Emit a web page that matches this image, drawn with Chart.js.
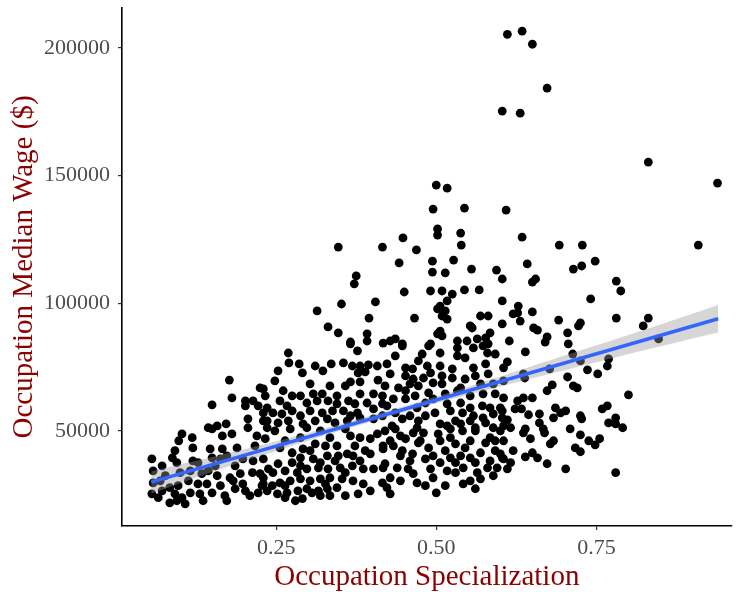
<!DOCTYPE html>
<html>
<head>
<meta charset="utf-8">
<script src="https://cdn.jsdelivr.net/npm/chart.js@4/dist/chart.umd.min.js"></script>
<style>
  html, body { margin: 0; padding: 0; background: #fff; }
  canvas { display: block; }
</style>
</head>
<body>
<canvas id="wage-chart" width="736" height="592"></canvas>
<script>
// occupations: [specialization, median wage in $]
const occupations = [
  [.611,205400],[.634,206600],[.650,201500],[.673,184300],[.603,175300],[.631,174500],[.831,155300],[.939,147100],
  [.500,146300],[.517,145100],[.495,136900],[.544,137300],[.609,136500],[.502,129100],
  [.448,125600],[.502,126700],[.538,127500],[.416,122000],[.469,120900],[.539,122800],[.442,115800],[.494,116500],
  [.527,116900],[.494,112200],[.514,111900],[.555,113400],[.594,113000],[.603,109500],[.450,104400],[.491,104800],
  [.509,104800],[.525,103600],[.544,105200],[.567,105200],[.405,100500],[.517,100900],[.506,98900],[.502,97800],
  [.514,97000],[.509,95000],[.517,93800],[.466,94200],[.569,95000],[.581,95000],[.603,100900],[.603,91900],
  [.553,91100],[.556,90300],[.584,88400],[.506,89100],[.502,88000],[.509,87200],[.428,85200],[.436,86000],
  [.447,84100],[.491,84100],[.533,85200],[.548,85200],[.564,86000],[.577,86400],[.581,84100],
  [.347,122000],[.375,110700],[.372,107600],[.352,99700],[.314,97000],[.395,94200],[.331,90700],[.347,88400],
  [.366,84800],[.392,88000],[.392,85200],
  [.634,125900],[.692,122800],[.728,122800],[.909,122800],[.642,115400],[.714,113400],[.727,114600],[.748,116500],
  [.650,108300],[.655,109500],[.781,108700],[.788,104800],[.628,98900],[.620,95800],[.627,96200],[.650,96600],
  [.741,101700],[.631,93000],[.652,90300],[.658,89500],[.691,93400],[.725,92300],[.722,91100],[.705,88400],
  [.781,94200],[.831,94200],[.823,91100],[.847,86000],[.614,85200],[.673,86800],[.670,84800],[.706,84100],
  [.639,80900],[.713,80100],[.725,77400],[.769,78200],[.767,75400],[.736,73900],[.752,72300],[.705,71100],
  [.677,74300],[.636,72300],[.638,70700],[.611,77000],[.605,74700],[.714,67600],[.720,66800],[.681,68000],
  [.673,65700],[.800,64100],[.605,62900],[.627,61700],[.636,62900],[.650,62900],[.633,58600],[.603,57800],
  [.623,58600],[.611,54300],[.644,56300],[.661,56600],[.661,53100],[.686,59000],[.694,57000],[.702,57800],
  [.683,55100],[.725,55900],[.727,54700],[.759,58600],[.767,59800],[.769,53100],[.780,55100],[.780,52700],
  [.791,51200],[.709,50800],[.667,50800],[.639,50800],[.616,51200],
  [.636,49200],[.647,46900],[.669,49200],[.725,48400],[.738,46100],[.755,46900],[.748,44500],[.717,43300],
  [.725,41800],[.678,44900],[.683,46100],[.605,46100],[.620,42200],[.639,39800],[.650,41400],[.658,39400],
  [.673,37100],[.702,35100],[.780,33600],[.605,39000],[.611,35100],[.616,37500],[.600,41000],
  [.177,69900],[.181,62900],[.150,60200],[.225,66800],[.202,61700],[.214,61700],[.222,59800],[.202,59800],
  [.206,54700],[.172,52700],[.158,51900],[.144,51200],[.230,57000],[.230,53900],[.206,51200],
  [.103,48800],[.119,47300],[.150,50800],[.166,48000],[.181,48800],[.220,48000],[.098,46100],[.092,42200],
  [.120,43300],[.147,42900],[.166,42900],[.189,43300],[.217,44100],[.056,39000],[.072,36300],[.088,39400],
  [.095,37500],[.120,38200],[.128,37500],[.150,39400],[.163,39000],[.173,40200],[.198,39000],[.214,38200],
  [.230,39000],[.058,34300],[.077,32400],[.100,33600],[.134,33200],[.144,34300],[.158,32400],[.178,31600],
  [.194,33200],[.213,33600],[.225,33200],[.056,25300],[.072,26500],[.084,27700],[.092,25300],[.103,23800],
  [.116,25700],[.108,21400],[.131,25300],[.150,25700],[.163,28500],[.170,24600],[.186,27300],[.183,30400],
  [.198,29200],[.209,24600],[.222,25700],[.228,28500],[.058,29600],[.066,23800],[.084,21800],[.095,22600],
  [.097,28500],[.113,30400],[.128,29200],[.142,29200],[.173,22600],[.136,22600],
  [.116,34300],[.155,36300],[.186,36300],[.069,30400],[.202,26500],
  [.269,80500],[.270,76600],[.253,73500],[.286,76200],[.291,72700],[.311,75400],[.323,73500],[.336,76200],
  [.355,76600],[.369,75400],[.381,75400],[.394,75800],[.408,75400],[.378,72700],[.389,73100],[.366,69200],
  [.381,69200],[.409,69900],[.366,84100],[.377,81300],[.230,66400],[.233,63700],[.261,65700],[.275,63700],
  [.308,64500],[.322,64500],[.345,63700],[.381,64500],[.402,64500],[.416,60600],[.256,61700],[.267,59800],
  [.298,60900],[.314,61700],[.331,61700],[.345,60600],[.363,61700],[.373,60600],[.392,60900],[.236,59000],
  [.245,57000],[.259,56600],[.275,57800],[.288,55900],[.303,57800],[.322,57000],[.338,57800],[.355,57800],
  [.377,57000],[.402,58600],[.236,53900],[.253,53100],[.269,53900],[.292,52700],[.311,53900],[.330,54700],
  [.342,53100],[.361,53900],[.381,55100],[.402,54700],[.416,55900],
  [.248,69600],[.303,68400],[.334,67600],[.358,67600],[.288,63700],[.366,55900],
  [.236,51200],[.272,50800],[.298,51200],[.233,46900],[.256,43300],[.275,41400],[.292,42900],[.311,44900],
  [.327,44100],[.345,44100],[.366,48000],[.381,47300],[.397,46900],[.408,48800],[.417,44100],[.370,40200],
  [.381,38200],[.397,41000],[.361,41000],[.347,40200],[.330,40200],[.308,39000],[.288,39400],[.275,37500],
  [.253,37100],[.238,35100],[.230,31600],[.245,33600],[.264,34300],[.283,33600],[.298,35100],[.316,35500],
  [.331,35100],[.350,35500],[.369,36300],[.386,35100],[.402,35100],[.417,35500],[.230,29200],[.244,28500],
  [.256,29600],[.272,30400],[.288,31200],[.303,30400],[.319,31200],[.334,31600],[.353,31200],[.370,30400],
  [.386,29200],[.236,26500],[.252,25300],[.267,25700],[.284,26500],[.298,27300],[.316,26500],[.330,27300],
  [.345,27700],[.264,23800],[.291,23400],[.319,24600],[.334,24600],[.378,25300],[.306,25700],
  [.248,50000],[.319,50000],[.358,50800],[.264,46100],[.288,47300],[.334,47300],[.303,42200],[.373,44100],
  [.389,42200],[.319,37500],[.342,38200],[.358,33600],[.288,36300],[.327,29200],[.264,28500],[.358,24600],
  [.397,26500],[.280,22600],
  [.417,84400],[.447,83300],[.488,83300],[.533,82500],[.558,82500],[.573,83300],[.592,80100],[.478,80100],
  [.472,77400],[.533,79400],[.580,80500],[.423,76200],[.452,74700],[.463,74300],[.486,75400],[.506,75400],
  [.525,74300],[.558,74700],[.577,76200],[.428,72300],[.452,71500],[.464,70300],[.480,70700],[.495,68800],
  [.509,71500],[.525,70700],[.581,72300],[.420,67600],[.441,66800],[.452,65700],[.472,67600],[.509,68400],
  [.538,66800],[.569,68400],[.589,68400],[.605,69600],[.416,63700],[.433,62500],[.452,62500],[.467,63700],
  [.488,64900],[.495,62500],[.514,64500],[.533,65700],[.553,63700],[.573,64500],[.592,64500],[.423,59800],
  [.470,59000],[.483,60900],[.517,60600],[.538,60900],[.553,59000],[.572,59800],[.584,59000],[.600,59000],
  [.447,54700],[.459,55900],[.472,53900],[.498,57000],[.541,57000],[.558,55900],[.573,55100],[.589,56600],
  [.603,55100],[.431,51900],[.470,51200],[.506,52700],[.517,51900],[.538,52700],[.561,51200],[.589,51200],
  [.605,51900],
  [.436,79400],[.506,80500],[.545,78600],[.459,68400],[.491,72700],[.545,70300],[.561,71500],[.436,57000],
  [.483,55900],[.522,57800],[.577,53100],[.530,53900],[.553,53900],
  [.420,50000],[.436,50800],[.452,46900],[.464,49200],[.480,49200],[.503,48800],[.522,50800],[.541,50000],
  [.561,50000],[.584,47300],[.600,50000],[.417,42900],[.433,44100],[.447,42200],[.463,41000],[.472,45300],
  [.488,43300],[.483,39000],[.495,40200],[.514,42200],[.530,44900],[.545,43300],[.538,40200],[.553,39400],
  [.569,41400],[.592,42200],[.603,39400],[.420,37100],[.439,35500],[.456,35100],[.428,31600],[.444,30400],
  [.464,33200],[.470,29600],[.495,31600],[.517,34300],[.530,37500],[.542,35500],[.564,33600],[.580,35500],
  [.542,29200],[.553,30400],[.595,35500],[.428,25300],[.500,25700],[.416,29600],[.423,27700],
  [.428,46100],[.444,48000],[.475,46100],[.506,46100],[.522,47300],[.553,46100],[.577,45300],[.592,46100],
  [.459,38200],[.506,37500],[.522,39400],[.561,37500],[.584,38200],[.444,40200],[.491,35100],[.530,33600],
  [.569,31200],[.589,32400],[.483,28500],[.561,27300],[.514,28500]
];

// linear fit and its confidence band
const trendX = [0.055, 0.94];
const trendY = [29900, 93900];
const bandX = [0.055, 0.15, 0.25, 0.35, 0.45, 0.55, 0.65, 0.75, 0.85, 0.94];
const bandLow = [25400, 33900, 42100, 50000, 57300, 64100, 70600, 76900, 83100, 88500];
const bandHigh = [34200, 39700, 45900, 52600, 59700, 67300, 75400, 83500, 91700, 99300];

const xTicks = [0.25, 0.5, 0.75];
const yTicks = [50000, 100000, 150000, 200000];

const serif = '"Liberation Serif", "DejaVu Serif", serif';
const tickFont = { family: serif, size: 22 };
const titleFont = { family: serif, size: 29, lineHeight: 1.0 };
const titleColor = '#8b0000';
const tickColor = '#4d4d4d';

const pts = occupations.map(o => ({ x: o[0], y: o[1] }));
const band = arr => bandX.map((x, i) => ({ x, y: arr[i] }));
const trend = trendX.map((x, i) => ({ x, y: trendY[i] }));

new Chart(document.getElementById('wage-chart'), {
  type: 'scatter',
  data: {
    datasets: [
      {
        data: pts, order: 3,
        pointRadius: 4.4, pointHoverRadius: 4.4,
        pointBackgroundColor: '#000', pointBorderWidth: 0
      },
      {
        type: 'line', data: band(bandLow), order: 2,
        borderWidth: 0, pointRadius: 0, fill: false, tension: 0.3
      },
      {
        type: 'line', data: band(bandHigh), order: 2,
        borderWidth: 0, pointRadius: 0, tension: 0.3,
        fill: '-1', backgroundColor: 'rgba(153,153,153,0.4)'
      },
      {
        type: 'line', data: trend, order: 1,
        borderColor: '#3366ff', borderWidth: 3.5, pointRadius: 0, fill: false
      }
    ]
  },
  options: {
    responsive: false,
    animation: false,
    devicePixelRatio: 1,
    layout: { padding: { top: 8, right: 0, left: 0, bottom: 0 } },
    plugins: { legend: { display: false }, tooltip: { enabled: false } },
    scales: {
      x: {
        type: 'linear', min: 0.0094, max: 0.961,
        afterBuildTicks: s => { s.ticks = xTicks.map(v => ({ value: v })); },
        afterFit: s => { s.height = 66; s.paddingLeft = 0; s.paddingRight = 0; },
        ticks: { color: tickColor, font: tickFont, padding: 5, maxRotation: 0,
                 callback: v => v.toFixed(2) },
        grid: { drawOnChartArea: false, drawTicks: true, tickLength: 4, color: '#333', lineWidth: 1.2 },
        border: { display: true, color: '#000', width: 1.6 },
        title: { display: true, text: 'Occupation Specialization', color: titleColor,
                 font: titleFont, padding: { top: 0, bottom: 0 } }
      },
      y: {
        type: 'linear', min: 12700, max: 215700,
        afterBuildTicks: s => { s.ticks = yTicks.map(v => ({ value: v })); },
        afterFit: s => { s.width = 122; s.paddingTop = 0; s.paddingBottom = 0; },
        ticks: { color: tickColor, font: tickFont, padding: 8,
                 callback: v => String(v) },
        grid: { drawOnChartArea: false, drawTicks: true, tickLength: 4, color: '#333', lineWidth: 1.2 },
        border: { display: true, color: '#000', width: 1.6 },
        title: { display: true, text: 'Occupation Median Wage ($)', color: titleColor,
                 font: titleFont, padding: { top: 10, bottom: 0 } }
      }
    }
  }
});
</script>
</body>
</html>
